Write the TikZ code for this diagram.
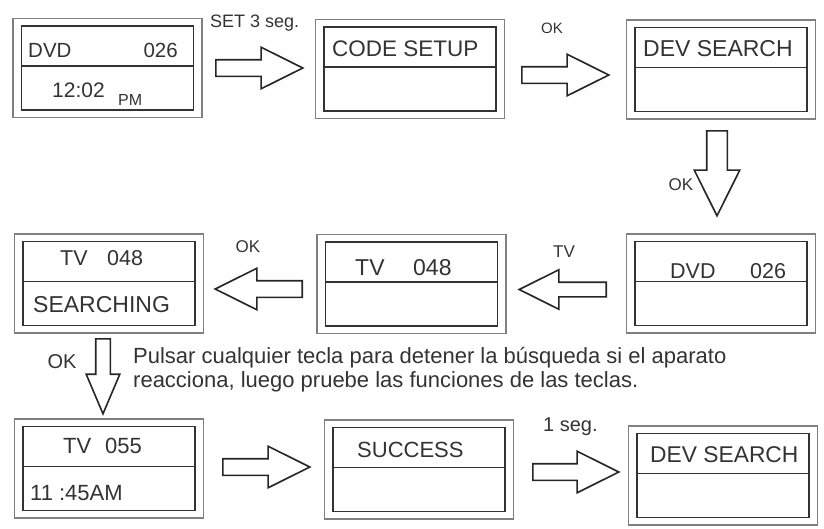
\documentclass[tikz,border=0pt]{standalone}
\usepackage{fontspec}
\setmainfont{Liberation Sans}
\usetikzlibrary{shapes.arrows}

\begin{document}
\begin{tikzpicture}[
  x=1pt,y=-1pt,
  screen/.style={draw=black!50,line width=1.3pt,minimum width=189pt,minimum height=99pt,inner sep=0pt},
  panel/.style={draw=black!80,line width=1.6pt,minimum width=172pt,minimum height=84pt,inner sep=0pt},
  divider/.style={draw=black!80,line width=1.4pt},
  lcd/.style={text=black!80,inner sep=0pt,font=\fontsize{22}{22}\selectfont},
  key/.style={text=black!80,inner sep=0pt,font=\fontsize{17}{17}\selectfont},
  push/.style={single arrow,draw=black!85,line width=1.6pt,inner xsep=0pt,inner ysep=7.5pt,
    single arrow head extend=12.5pt,single arrow tip angle=53,minimum height=87pt,anchor=tail}
]
  \useasboundingbox (0,0) rectangle (824,528);

  % screens: outer frame, display panel, divider
  \foreach \name/\px/\py in {dvd/107.5/68, setup/410/69, search/721/69.5,
      scan/109/283.5, tvcode/411.5/284, dvdcode/721/283.5,
      found/109/468.5, success/419/469.5, back/723/475.5}{
    \node[screen] (\name) at (\px,\py) {};
    \node[panel] (\name-p) at (\name) {};
    \draw[divider] ([yshift=2pt]\name-p.west) -- ([yshift=2pt]\name-p.east);
  }

  % display texts
  \node[lcd,anchor=base west,font=\fontsize{20.5}{20.5}\selectfont] (dvd-a) at (28,57) {DVD};
  \node[lcd,anchor=base east,font=\fontsize{20.5}{20.5}\selectfont] (dvd-b) at (178,57) {026};
  \node[lcd,anchor=base west,font=\fontsize{21}{21}\selectfont] (dvd-c) at (52,97) {12:02};
  \node[lcd,anchor=base west,font=\fontsize{16}{16}\selectfont] (dvd-d) at (118,105) {PM};
  \node[lcd,anchor=base west,font=\fontsize{22.5}{22.5}\selectfont] (setup-a) at (332,56) {CODE SETUP};
  \node[lcd,anchor=base west,font=\fontsize{23}{23}\selectfont] (search-a) at (643,56) {DEV SEARCH};
  \node[lcd,anchor=base west,font=\fontsize{21.5}{21.5}\selectfont] (scan-a) at (60,265) {TV};
  \node[lcd,anchor=base west,font=\fontsize{21.5}{21.5}\selectfont] (scan-b) at (107,265) {048};
  \node[lcd,anchor=base west,font=\fontsize{23}{23}\selectfont] (scan-c) at (33,312) {SEARCHING};
  \node[lcd,anchor=base west,font=\fontsize{23}{23}\selectfont] (tvcode-a) at (355,275) {TV};
  \node[lcd,anchor=base west,font=\fontsize{23}{23}\selectfont] (tvcode-b) at (413,275) {048};
  \node[lcd,anchor=base west,font=\fontsize{21.5}{21.5}\selectfont] (dvdcode-a) at (670,278) {DVD};
  \node[lcd,anchor=base west,font=\fontsize{21.5}{21.5}\selectfont] (dvdcode-b) at (750,278) {026};
  \node[lcd,anchor=base west] (found-a) at (63,453) {TV};
  \node[lcd,anchor=base west] (found-b) at (105,453) {055};
  \node[lcd,anchor=base west] (found-c) at (30,500) {11 :45AM};
  \node[lcd,anchor=base west] (success-a) at (357,457) {SUCCESS};
  \node[lcd,anchor=base west,font=\fontsize{22.8}{22.8}\selectfont] (back-a) at (650,462) {DEV SEARCH};

  % block arrows, placed by their tails
  \node[push] (go1) at (215,68) {};
  \node[push] (go2) at (521,75) {};
  \node[push,rotate=-90,inner ysep=9.5pt,minimum height=85pt] (go3) at (717,130) {};
  \node[push,rotate=180,inner ysep=6.5pt] (go4) at (607,289.5) {};
  \node[push,rotate=180] (go5) at (303,289) {};
  \node[push,rotate=-90,inner ysep=6.5pt,single arrow head extend=9.5pt,
    single arrow tip angle=46,minimum height=75pt] (go6) at (103,338) {};
  \node[push] (go7) at (222,467) {};
  \node[push,minimum height=86pt] (go8) at (532,472) {};

  % key labels
  \node[key,anchor=base west,font=\fontsize{18}{18}\selectfont] (set) at (210,27) {SET 3 seg.};
  \node[key,anchor=base,font=\fontsize{15}{15}\selectfont] (ok1) at (552,33) {OK};
  \node[key,anchor=base] (ok2) at (681,190) {OK};
  \node[key,anchor=base] (tvkey) at (564,257) {TV};
  \node[key,anchor=base] (ok3) at (248,252) {OK};
  \node[key,anchor=base,font=\fontsize{20}{20}\selectfont] (ok4) at (62,368) {OK};
  \node[key,anchor=base west,font=\fontsize{20}{20}\selectfont] (wait) at (543,431) {1 seg.};

  % note
  \node[key,anchor=base west,font=\fontsize{22}{22}\selectfont] (note1) at (133,363)
    {Pulsar cualquier tecla para detener la búsqueda si el aparato};
  \node[key,anchor=base west,font=\fontsize{22}{22}\selectfont] (note2) at (133,387)
    {reacciona, luego pruebe las funciones de las teclas.};
\end{tikzpicture}
\end{document}
